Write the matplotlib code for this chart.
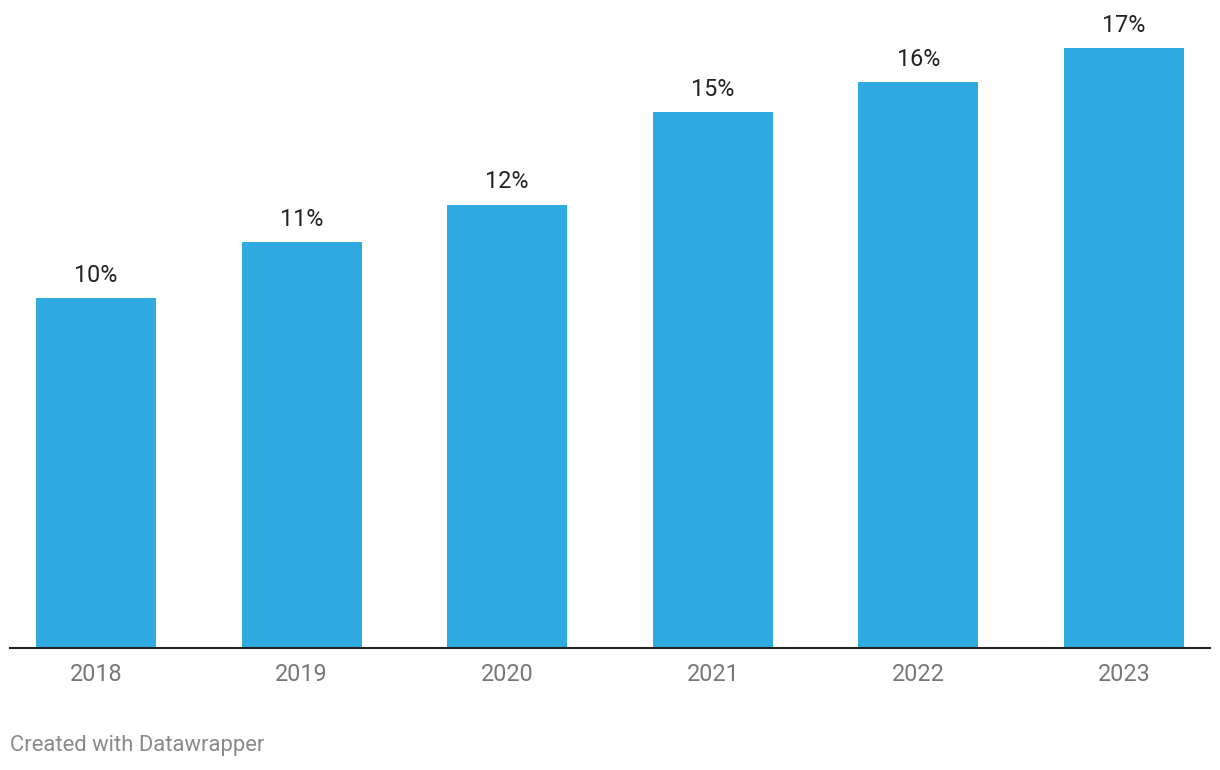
import matplotlib.pyplot as plt

# data (bar heights in %, labels as shown)
years = ["2018", "2019", "2020", "2021", "2022", "2023"]
shares = [10.0, 11.6, 12.66, 15.31, 16.17, 17.14]
share_labels = ["10%", "11%", "12%", "15%", "16%", "17%"]

plt.rcParams['font.family'] = ['Roboto', 'DejaVu Sans']

fig = plt.figure(figsize=(12.2, 7.7), dpi=100)
ax = fig.add_axes([10 / 1220, 122 / 770, 1200 / 1220, 648 / 770])

x = range(len(years))
bars = ax.bar(x, shares, width=0.584, color='#2fabe1', zorder=2)

for bar, lab in zip(bars, share_labels):
  ax.annotate(lab, (bar.get_x() + bar.get_width() / 2, bar.get_height()),
              xytext=(0, 16.5), textcoords='offset points',
              ha='center', va='center', fontsize=16.8, color='#222222')

ax.set_xlim(-0.418, len(years) - 1 + 0.418)
ax.set_ylim(0, 648 / 35)
ax.set_xticks(list(x))
ax.set_xticklabels(years, fontsize=16.8, color='#777777')
ax.tick_params(axis='x', length=0, pad=11)
ax.set_yticks([])

for side in ['top', 'right', 'left']:
  ax.spines[side].set_visible(False)
ax.spines['bottom'].set_color('#222222')
ax.spines['bottom'].set_linewidth(1.5)
ax.spines['bottom'].set_zorder(3)

fig.text(10 / 1220, 1 - 746 / 770, "Created with Datawrapper",
         ha='left', va='center', fontsize=15.8, color='#8a8a8a')

fig.savefig('out.png', dpi=100)
